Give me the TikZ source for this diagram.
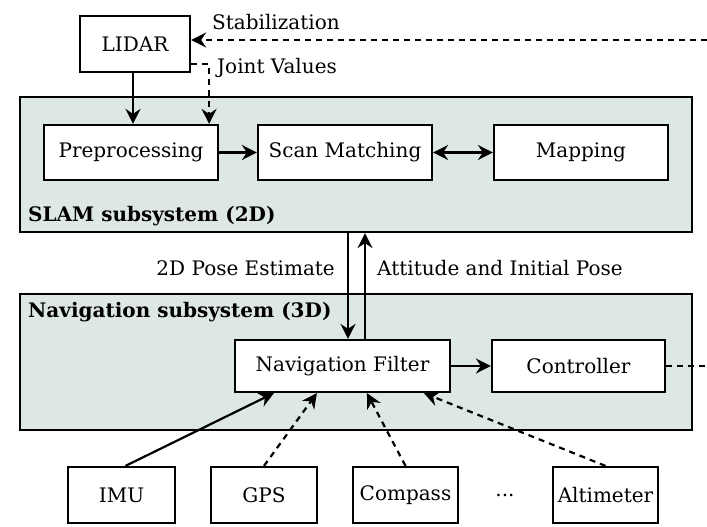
\documentclass[tikz,border=0pt]{standalone}
\usepackage{fontspec}
\setmainfont{DejaVu Serif}
\usetikzlibrary{arrows.meta,calc}
\definecolor{subsysfill}{RGB}{221,231,229}
\tikzset{
  tip/.tip={Stealth[length=15pt,width=15pt,inset=5pt]},
  block/.style={draw=black, line width=2.2pt, fill=white, minimum height=55pt, inner sep=0pt, font=\fontsize{20}{24}\selectfont},
  subsys/.style={draw=black, line width=2.2pt, fill=subsysfill, inner sep=0pt},
  lbl/.style={inner sep=0pt, font=\fontsize{20}{24}\selectfont},
  sublbl/.style={inner sep=0pt, font=\fontsize{20}{24}\selectfont\bfseries},
  arr/.style={line width=2.2pt, -tip},
  darr/.style={arr, dash pattern=on 6pt off 5pt},
  dline/.style={line width=2.2pt, dash pattern=on 6pt off 5pt},
}
\begin{document}
\begin{tikzpicture}[x=1pt,y=-1pt]
\useasboundingbox[fill=white] (0,0) rectangle (707,527);

% subsystem frames
\node[subsys, minimum width=672pt, minimum height=135pt] (slam) at (356,164.5) {};
\node[subsys, minimum width=672pt, minimum height=136pt] (nav) at (356,362) {};
\node[sublbl, anchor=base west] (slamlbl) at (28,221) {SLAM subsystem (2D)};
\node[sublbl, anchor=base west] (navlbl) at (28,317) {Navigation subsystem (3D)};

% blocks
\node[block, minimum width=110pt, minimum height=56pt] (lidar) at (135,44) {LIDAR};
\node[block, minimum width=174pt] (pre) at (131,152.5) {Preprocessing};
\node[block, minimum width=174pt] (scan) at (345,152.5) {Scan Matching};
\node[block, minimum width=174pt] (map) at (581,152.5) {Mapping};
\node[block, minimum width=215pt, minimum height=52pt] (navf) at (342.5,366) {Navigation Filter};
\node[block, minimum width=173pt, minimum height=52pt] (ctrl) at (578.5,366) {Controller};
\node[block, minimum width=107pt, minimum height=56pt] (imu) at (121.5,495) {IMU};
\node[block, minimum width=106pt, minimum height=56pt] (gps) at (264,495) {GPS};
\node[block, minimum width=105pt, minimum height=56pt] (comp) at (405.5,495) {Compass};
\node[lbl] (dots) at (505,495) {...};
\node[block, minimum width=105pt, minimum height=56pt] (alt) at (605.5,495) {Altimeter};

% LIDAR links
\coordinate (stabin) at (707,40);
\draw[darr] (stabin) -- (stabin -| lidar.east);
\node[lbl, anchor=west] (stablbl) at (212,22) {Stabilization};
\coordinate (jvout) at ($(lidar.east)+(0,20)$);
\coordinate (jvin) at ($(pre.north east)+(-10,0)$);
\draw[darr] (jvout) -| (jvin);
\node[lbl, anchor=west] (jvlbl) at (217,68) {Joint Values};
\coordinate (lidarout) at ($(lidar.south)+(-2,0)$);
\draw[arr] (lidarout) -- (lidarout |- pre.north);

% SLAM internals
\draw[arr] (pre) -- (scan);
\draw[line width=2.2pt, tip-tip] (scan) -- (map);

% between subsystems
\coordinate (downx) at ($(slam.south)+(-8,0)$);
\coordinate (upx) at ($(slam.south)+(9,0)$);
\draw[arr] (downx) -- (downx |- navf.north);
\draw[arr] (upx |- navf.north) -- (upx);
\node[lbl, anchor=east] (posel) at (335,268) {2D Pose Estimate};
\node[lbl, anchor=west] (attl) at (377,268) {Attitude and Initial Pose};

% navigation internals
\draw[arr] (navf) -- (ctrl);
\coordinate (ctrlout) at (707,366);
\draw[dline] (ctrl.east) -- (ctrlout);

% sensors
\coordinate (imuin) at ($(navf.south west)+(40,0)$);
\coordinate (gpsin) at ($(navf.south west)+(83,0)$);
\coordinate (compin) at ($(navf.south west)+(133,0)$);
\coordinate (altin) at ($(navf.south west)+(190,0)$);
\coordinate (imuout) at ($(imu.north)+(4,0)$);
\draw[arr] (imuout) -- (imuin);
\draw[darr] (gps.north) -- (gpsin);
\draw[darr] (comp.north) -- (compin);
\draw[darr] (alt.north) -- (altin);
\end{tikzpicture}
\end{document}
